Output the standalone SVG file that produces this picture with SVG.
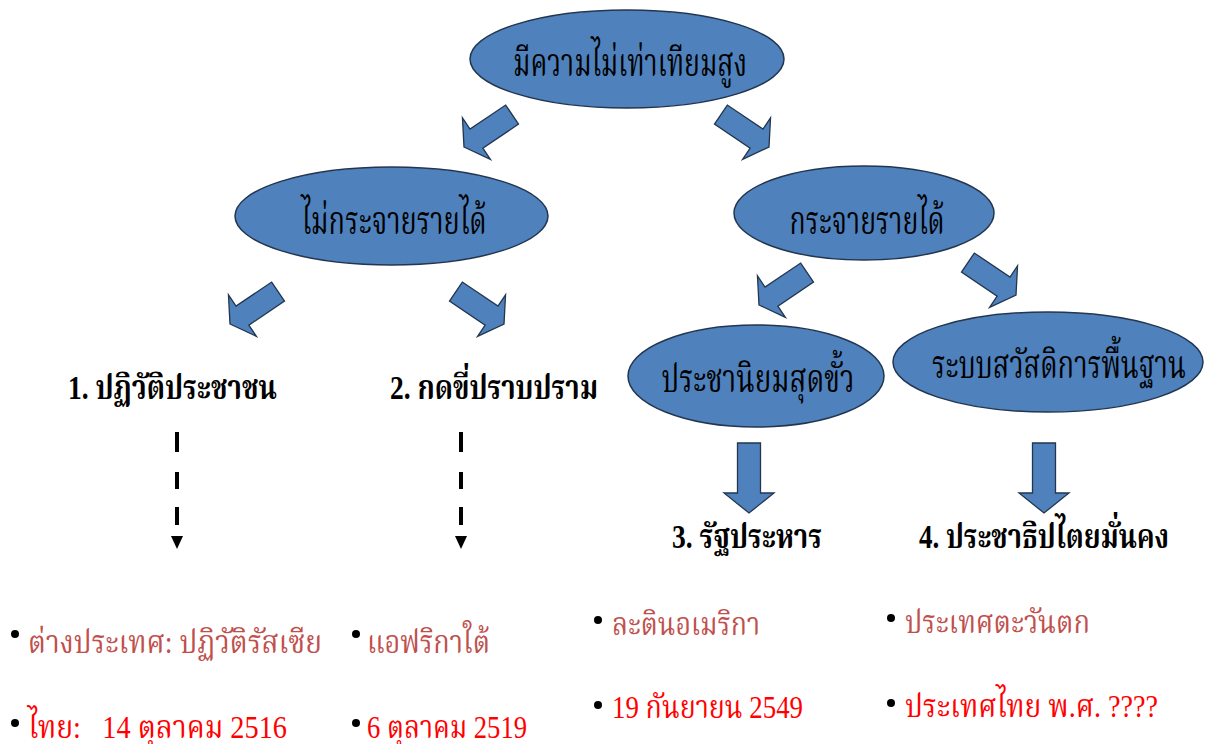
<svg xmlns="http://www.w3.org/2000/svg" width="1205" height="744" viewBox="0 0 1205 744">
<style>
.ell{fill:#4f81bd;stroke:#22364f;stroke-width:1.5}
.blk{fill:#4f81bd;stroke:#22364f;stroke-width:1.3;stroke-linejoin:miter}
.et{font-family:"Liberation Serif","Norasi","Noto Serif Thai","Noto Sans Thai",serif;font-size:40px;fill:#000;text-anchor:middle}
.lb{font-family:"Liberation Serif","Norasi","Noto Serif Thai","Noto Sans Thai",serif;font-size:34px;font-weight:bold;fill:#000;text-anchor:middle}
.bt{font-family:"Liberation Serif","Norasi","Noto Serif Thai","Noto Sans Thai",serif;font-size:32px}
.r1{fill:#c0504d}
.r2{fill:#ff0000}
.bul{fill:#000}
.dash{stroke:#000;stroke-width:4;fill:none}
</style>
<defs>
<polygon id="darr" points="0,0 -15,-25 -15,-11.5 -58,-11.5 -58,11.5 -15,11.5 -15,25"/>
</defs>

<g id="connectors">
  <use href="#darr" class="blk" transform="translate(464,147) rotate(146)"/>
  <use href="#darr" class="blk" transform="translate(769,147) rotate(34)"/>
  <use href="#darr" class="blk" transform="translate(230,324) rotate(146)"/>
  <use href="#darr" class="blk" transform="translate(504,324) rotate(34)"/>
  <use href="#darr" class="blk" transform="translate(759,305) rotate(146)"/>
  <use href="#darr" class="blk" transform="translate(1016,295) rotate(34)"/>
  <polygon class="blk" points="737.5,443 760.5,443 760.5,493 774,493 749,513 724,493 737.5,493"/>
  <polygon class="blk" points="1032.5,443 1055.5,443 1055.5,493 1069,493 1044,513 1019,493 1032.5,493"/>
  <g id="dashed1">
    <path class="dash" d="M177,432 V452 M177,472 V489 M177,507 V525"/>
    <polygon points="171,536 183,536 177,549" fill="#000"/>
  </g>
  <g id="dashed2">
    <path class="dash" d="M461,432 V452 M461,472 V489 M461,507 V525"/>
    <polygon points="455,536 467,536 461,549" fill="#000"/>
  </g>
</g>

<g id="node-top">
  <ellipse class="ell" cx="627" cy="59" rx="157" ry="49"/>
  <text class="et" x="630" y="76" textLength="234" lengthAdjust="spacingAndGlyphs">มีความไม่เท่าเทียมสูง</text>
</g>
<g id="node-no-distribute">
  <ellipse class="ell" cx="391.5" cy="216" rx="156.5" ry="49"/>
  <text class="et" x="394" y="234" textLength="185" lengthAdjust="spacingAndGlyphs">ไม่กระจายรายได้</text>
</g>
<g id="node-distribute">
  <ellipse class="ell" cx="864" cy="213" rx="130" ry="47"/>
  <text class="et" x="867" y="234" textLength="155" lengthAdjust="spacingAndGlyphs">กระจายรายได้</text>
</g>
<g id="node-populism">
  <ellipse class="ell" cx="756" cy="376" rx="128" ry="51"/>
  <text class="et" x="758" y="392" textLength="193" lengthAdjust="spacingAndGlyphs">ประชานิยมสุดขั้ว</text>
</g>
<g id="node-welfare">
  <ellipse class="ell" cx="1048" cy="362" rx="155" ry="50"/>
  <text class="et" x="1059" y="378" textLength="254" lengthAdjust="spacingAndGlyphs">ระบบสวัสดิการพื้นฐาน</text>
</g>

<g id="label-1">
  <text class="lb" x="172.5" y="399" textLength="209" lengthAdjust="spacingAndGlyphs">1. ปฏิวัติประชาชน</text>
</g>
<g id="label-2">
  <text class="lb" x="494" y="399" textLength="208" lengthAdjust="spacingAndGlyphs">2. กดขี่ปราบปราม</text>
</g>
<g id="label-3">
  <text class="lb" x="747" y="548" textLength="150" lengthAdjust="spacingAndGlyphs">3. รัฐประหาร</text>
</g>
<g id="label-4">
  <text class="lb" x="1044" y="548" textLength="250" lengthAdjust="spacingAndGlyphs">4. ประชาธิปไตยมั่นคง</text>
</g>

<g id="bullets-1">
  <circle class="bul" cx="15" cy="634" r="4"/>
  <text class="bt r1" x="28" y="653" textLength="294" lengthAdjust="spacingAndGlyphs">ต่างประเทศ: ปฏิวัติรัสเซีย</text>
  <circle class="bul" cx="15" cy="723" r="4"/>
  <text class="bt r2" x="28" y="738" textLength="259" lengthAdjust="spacingAndGlyphs" xml:space="preserve">ไทย:   14 ตุลาคม 2516</text>
</g>
<g id="bullets-2">
  <circle class="bul" cx="356" cy="634" r="4"/>
  <text class="bt r1" x="367" y="653" textLength="123" lengthAdjust="spacingAndGlyphs">แอฟริกาใต้</text>
  <circle class="bul" cx="356" cy="723" r="4"/>
  <text class="bt r2" x="367" y="738" textLength="160" lengthAdjust="spacingAndGlyphs">6 ตุลาคม 2519</text>
</g>
<g id="bullets-3">
  <circle class="bul" cx="598" cy="620" r="4"/>
  <text class="bt r1" x="612" y="635" textLength="148" lengthAdjust="spacingAndGlyphs">ละตินอเมริกา</text>
  <circle class="bul" cx="598" cy="705" r="4"/>
  <text class="bt r2" x="612" y="718" textLength="191" lengthAdjust="spacingAndGlyphs">19 กันยายน 2549</text>
</g>
<g id="bullets-4">
  <circle class="bul" cx="891" cy="618" r="4"/>
  <text class="bt r1" x="905" y="633" textLength="185" lengthAdjust="spacingAndGlyphs">ประเทศตะวันตก</text>
  <circle class="bul" cx="891" cy="703" r="4"/>
  <text class="bt r2" x="905" y="717" textLength="253" lengthAdjust="spacingAndGlyphs">ประเทศไทย พ.ศ. ????</text>
</g>
</svg>
